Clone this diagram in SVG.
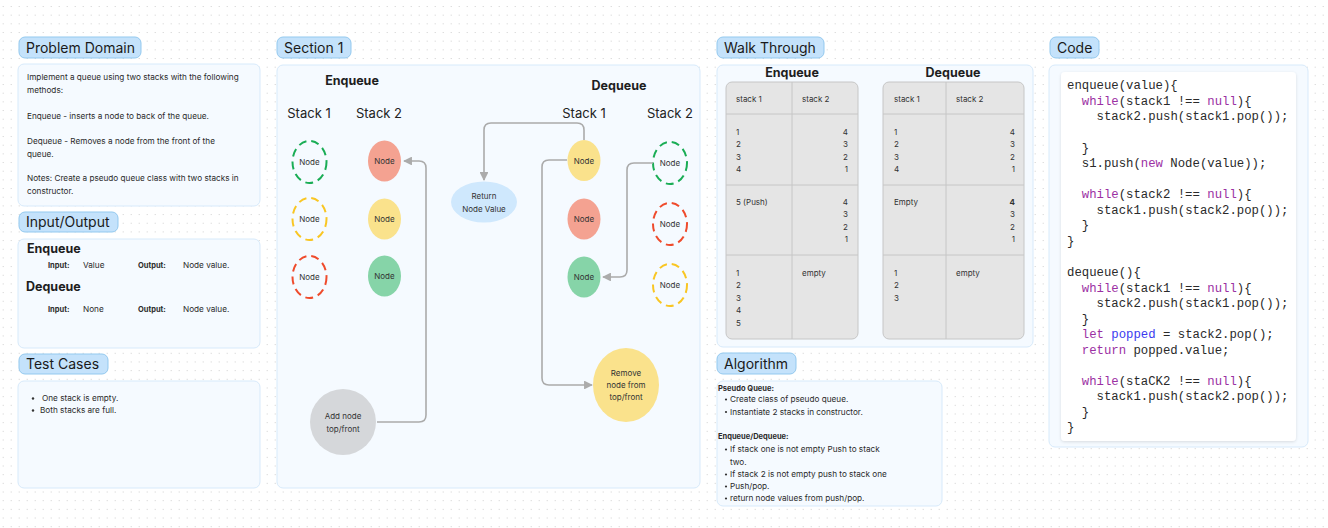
<svg xmlns="http://www.w3.org/2000/svg" width="1328" height="528" viewBox="0 0 1328 528">
<style>
text{font-family:Inter,"Noto Sans","Liberation Sans",sans-serif;fill:#2b2b2b}
.hp{fill:#c4e2fb;stroke:#93c9ef;stroke-width:1}
.ht{font-size:14px;fill:#1a1a1a}
.pn{fill:#f5faff;stroke:#d7eafb;stroke-width:1}
.s8{font-size:8.2px}
.s75b{font-size:7.5px;font-weight:700}
.b12{font-size:12.5px;font-weight:700;fill:#1e1e1e}
.st{font-size:13px;fill:#222}
.nl{font-size:8px;text-anchor:middle;fill:#333}
.dg{fill:none;stroke:#1aad55;stroke-width:2;stroke-dasharray:8 5}
.dy{fill:none;stroke:#f9c623;stroke-width:2;stroke-dasharray:8 5}
.dr{fill:none;stroke:#ef4b2c;stroke-width:2;stroke-dasharray:8 5}
.fr{fill:#f4a291}
.fy{fill:#fae28c}
.fg{fill:#86d4a8}
.conn{fill:none;stroke:#ababab;stroke-width:1.6}
.tb{fill:#e5e5e5;stroke:#c6c6c6;stroke-width:1}
.tl{stroke:#c6c6c6;stroke-width:1}
.wt{font-size:8px;fill:#333}
.wr{font-size:8px;fill:#333;text-anchor:end}
.code{font-family:"Liberation Mono","DejaVu Sans Mono",monospace;font-size:12.3px;fill:#2a2a2a}
.kw{fill:#9b30a3}
.vr{fill:#3b3bef}
</style>
<defs>
<pattern id="dots" x="2.7" y="6" width="8" height="8.67" patternUnits="userSpaceOnUse">
<rect x="0" y="0" width="1" height="1" fill="#cfcfcf"/>
</pattern>
<marker id="ah" viewBox="0 0 10 10" refX="9" refY="5" markerWidth="5.5" markerHeight="5.5" orient="auto" markerUnits="strokeWidth">
<path d="M0,0 L10,5 L0,10 z" fill="#ababab"/>
</marker>
<marker id="ahd" viewBox="0 0 10 10" refX="9" refY="5" markerWidth="6" markerHeight="6" orient="auto" markerUnits="strokeWidth">
<path d="M0,0 L10,5 L0,10 z" fill="#727272"/>
</marker>
<filter id="sh" x="-5%" y="-5%" width="110%" height="110%">
<feDropShadow dx="0" dy="1" stdDeviation="1.5" flood-color="#000" flood-opacity="0.12"/>
</filter>
</defs>
<rect width="1328" height="528" fill="#ffffff"/>
<rect width="1328" height="528" fill="url(#dots)"/>

<g id="problem-domain">
<rect class="hp" x="19" y="37" width="122" height="21" rx="6"/>
<text class="ht" x="26" y="53">Problem Domain</text>
<rect class="pn" x="18" y="64" width="242" height="142" rx="6"/>
<text class="s8" x="27" y="80">Implement a queue using two stacks with the following</text>
<text class="s8" x="27" y="93">methods:</text>
<text class="s8" x="27" y="119">Enqueue - inserts a node to back of the queue.</text>
<text class="s8" x="27" y="144">Dequeue - Removes a node from the front of the</text>
<text class="s8" x="27" y="157">queue.</text>
<text class="s8" x="27" y="181">Notes: Create a pseudo queue class with two stacks in</text>
<text class="s8" x="27" y="194">constructor.</text>
</g>

<g id="input-output">
<rect class="hp" x="19" y="212" width="99" height="20" rx="6"/>
<text class="ht" x="26" y="227">Input/Output</text>
<rect class="pn" x="18" y="239" width="242" height="109" rx="6"/>
<text class="b12" x="27" y="253">Enqueue</text>
<text class="s75b" x="48" y="268">Input:</text>
<text class="s8" x="83" y="268">Value</text>
<text class="s75b" x="138" y="268">Output:</text>
<text class="s8" x="183" y="268">Node value.</text>
<text class="b12" x="26" y="291">Dequeue</text>
<text class="s75b" x="48" y="312">Input:</text>
<text class="s8" x="83" y="312">None</text>
<text class="s75b" x="138" y="312">Output:</text>
<text class="s8" x="183" y="312">Node value.</text>
</g>

<g id="test-cases">
<rect class="hp" x="19" y="354" width="89" height="20" rx="6"/>
<text class="ht" x="26" y="369">Test Cases</text>
<rect class="pn" x="18" y="381" width="242" height="107" rx="6"/>
<circle cx="33" cy="398.5" r="1.2" fill="#333"/>
<text class="s8" x="42" y="401">One stack is empty.</text>
<circle cx="33" cy="410.5" r="1.2" fill="#333"/>
<text class="s8" x="40" y="413">Both stacks are full.</text>
</g>

<g id="section-1">
<rect class="hp" x="277" y="37" width="74" height="21" rx="6"/>
<text class="ht" x="284" y="53">Section 1</text>
<rect class="pn" x="277" y="65" width="423" height="423" rx="6"/>
<text class="b12" x="352" y="85" text-anchor="middle">Enqueue</text>
<text class="st" x="309" y="117.5" text-anchor="middle">Stack 1</text>
<text class="st" x="379" y="117.5" text-anchor="middle">Stack 2</text>
<text class="b12" x="619" y="90" text-anchor="middle">Dequeue</text>
<text class="st" x="584" y="117.5" text-anchor="middle">Stack 1</text>
<text class="st" x="670" y="117.5" text-anchor="middle">Stack 2</text>
</g>

<g id="enq-s1-green"><ellipse class="dg" cx="309.5" cy="162" rx="17" ry="21"/><text class="nl" x="309.5" y="165">Node</text></g>
<g id="enq-s1-yellow"><ellipse class="dy" cx="309.5" cy="219" rx="17" ry="21"/><text class="nl" x="309.5" y="222">Node</text></g>
<g id="enq-s1-red"><ellipse class="dr" cx="309.5" cy="277" rx="17" ry="21"/><text class="nl" x="309.5" y="280">Node</text></g>
<g id="enq-s2-red"><ellipse class="fr" cx="384.5" cy="161" rx="16.5" ry="20.5"/><text class="nl" x="384.5" y="164">Node</text></g>
<g id="enq-s2-yellow"><ellipse class="fy" cx="384.5" cy="219" rx="16.5" ry="20.5"/><text class="nl" x="384.5" y="222">Node</text></g>
<g id="enq-s2-green"><ellipse class="fg" cx="384.5" cy="276" rx="16.5" ry="20.5"/><text class="nl" x="384.5" y="279">Node</text></g>
<g id="add-node"><circle cx="343" cy="422" r="33" fill="#d5d7da"/><text class="nl" x="343" y="419">Add node</text><text class="nl" x="343" y="432">top/front</text></g>

<g id="deq-s1-yellow"><ellipse class="fy" cx="584" cy="160.5" rx="16.5" ry="20.5"/><text class="nl" x="584" y="163.5">Node</text></g>
<g id="deq-s1-red"><ellipse class="fr" cx="584" cy="219" rx="16.5" ry="20.5"/><text class="nl" x="584" y="222">Node</text></g>
<g id="deq-s1-green"><ellipse class="fg" cx="584" cy="277" rx="16.5" ry="20.5"/><text class="nl" x="584" y="280">Node</text></g>
<g id="deq-s2-green"><ellipse class="dg" cx="670" cy="163" rx="17" ry="21"/><text class="nl" x="670" y="166">Node</text></g>
<g id="deq-s2-red"><ellipse class="dr" cx="670" cy="224" rx="17" ry="21"/><text class="nl" x="670" y="227">Node</text></g>
<g id="deq-s2-yellow"><ellipse class="dy" cx="670" cy="285" rx="17" ry="21"/><text class="nl" x="670" y="288">Node</text></g>
<g id="return-node"><ellipse cx="484" cy="202" rx="33" ry="20.5" fill="#cfe8fd"/><text class="nl" x="484" y="199">Return</text><text class="nl" x="484" y="212">Node Value</text></g>
<g id="remove-node"><ellipse cx="626" cy="385" rx="33" ry="37" fill="#fae28c"/><text class="nl" x="626" y="376">Remove</text><text class="nl" x="626" y="388">node from</text><text class="nl" x="626" y="400">top/front</text></g>

<g id="connectors">
<path class="conn" marker-end="url(#ah)" d="M377,422 H419 Q426,422 426,415 V168 Q426,161 419,161 H404"/>
<path class="conn" marker-end="url(#ah)" d="M584,140 V130 Q584,123 577,123 H491 Q484,123 484,130 V180"/>
<path class="conn" marker-end="url(#ah)" d="M567,160 H549 Q542,160 542,167 V378 Q542,385 549,385 H592"/>
<path class="conn" marker-end="url(#ah)" d="M653,163 H634 Q627,163 627,170 V270 Q627,277 620,277 H603"/>
<line x1="780" y1="161" x2="803" y2="161" stroke="#727272" stroke-width="1.5" marker-end="url(#ahd)"/>
<line x1="934" y1="167" x2="957" y2="167" stroke="#727272" stroke-width="1.5" marker-end="url(#ahd)"/>
</g>

<g id="walk-through">
<rect class="hp" x="717" y="37" width="107" height="21" rx="6"/>
<text class="ht" x="724" y="53">Walk Through</text>
<rect class="pn" x="717" y="65" width="316" height="282" rx="6"/>
<text class="b12" x="792" y="77" text-anchor="middle">Enqueue</text>
<text class="b12" x="953" y="77" text-anchor="middle">Dequeue</text>
</g>

<g id="enqueue-table">
<rect class="tb" x="726" y="82" width="132" height="257" rx="6"/>
<line class="tl" x1="792" y1="82" x2="792" y2="339"/>
<line class="tl" x1="726" y1="114" x2="858" y2="114"/>
<line class="tl" x1="726" y1="185" x2="858" y2="185"/>
<line class="tl" x1="726" y1="255" x2="858" y2="255"/>
<text class="wt" x="736" y="102">stack 1</text>
<text class="wt" x="802" y="102">stack 2</text>
<text class="wt" x="736" y="135">1</text><text class="wt" x="736" y="147">2</text><text class="wt" x="736" y="160">3</text><text class="wt" x="736" y="172">4</text>
<text class="wr" x="848" y="135">4</text><text class="wr" x="848" y="147">3</text><text class="wr" x="848" y="160">2</text><text class="wr" x="848" y="172">1</text>
<text class="wt" x="736" y="205">5 (Push)</text>
<text class="wr" x="848" y="205">4</text><text class="wr" x="848" y="217">3</text><text class="wr" x="848" y="230">2</text><text class="wr" x="848" y="242">1</text>
<text class="wt" x="736" y="276">1</text><text class="wt" x="736" y="288">2</text><text class="wt" x="736" y="301">3</text><text class="wt" x="736" y="313">4</text><text class="wt" x="736" y="326">5</text>
<text class="wt" x="802" y="276">empty</text>
</g>

<g id="dequeue-table">
<rect class="tb" x="883" y="82" width="141" height="257" rx="6"/>
<line class="tl" x1="946" y1="82" x2="946" y2="339"/>
<line class="tl" x1="883" y1="114" x2="1024" y2="114"/>
<line class="tl" x1="883" y1="185" x2="1024" y2="185"/>
<line class="tl" x1="883" y1="255" x2="1024" y2="255"/>
<text class="wt" x="894" y="102">stack 1</text>
<text class="wt" x="956" y="102">stack 2</text>
<text class="wt" x="894" y="135">1</text><text class="wt" x="894" y="147">2</text><text class="wt" x="894" y="160">3</text><text class="wt" x="894" y="172">4</text>
<text class="wr" x="1015" y="135">4</text><text class="wr" x="1015" y="147">3</text><text class="wr" x="1015" y="160">2</text><text class="wr" x="1015" y="172">1</text>
<text class="wt" x="894" y="205">Empty</text>
<text class="wr" x="1015" y="205" font-weight="700">4</text><text class="wr" x="1015" y="217">3</text><text class="wr" x="1015" y="230">2</text><text class="wr" x="1015" y="242">1</text>
<text class="wt" x="894" y="276">1</text><text class="wt" x="894" y="288">2</text><text class="wt" x="894" y="301">3</text>
<text class="wt" x="956" y="276">empty</text>
</g>

<g id="algorithm">
<rect class="hp" x="717" y="353" width="79" height="21" rx="6"/>
<text class="ht" x="724" y="369">Algorithm</text>
<rect class="pn" x="717" y="381" width="225" height="125" rx="6"/>
<text class="s75b" x="718" y="391">Pseudo Queue:</text>
<circle cx="726" cy="399.5" r="1.1" fill="#333"/><text class="s8" x="730" y="402">Create class of pseudo queue.</text>
<circle cx="726" cy="412" r="1.1" fill="#333"/><text class="s8" x="730" y="414.5">Instantiate 2 stacks in constructor.</text>
<text class="s75b" x="718" y="439">Enqueue/Dequeue:</text>
<circle cx="726" cy="449.5" r="1.1" fill="#333"/><text class="s8" x="730" y="452">If stack one is not empty Push to stack</text>
<text class="s8" x="730" y="464.5">two.</text>
<circle cx="726" cy="474.5" r="1.1" fill="#333"/><text class="s8" x="730" y="477">If stack 2 is not empty push to stack one</text>
<circle cx="726" cy="486.5" r="1.1" fill="#333"/><text class="s8" x="730" y="489">Push/pop.</text>
<circle cx="726" cy="498.5" r="1.1" fill="#333"/><text class="s8" x="730" y="501">return node values from push/pop.</text>
</g>

<g id="code">
<rect class="hp" x="1050" y="37" width="49" height="21" rx="6"/>
<text class="ht" x="1057" y="53">Code</text>
<rect class="pn" x="1049" y="65" width="259" height="382" rx="6"/>
<rect x="1061" y="72" width="235" height="369" rx="4" fill="#ffffff" filter="url(#sh)"/>
<text class="code" x="1067" y="89.3">enqueue(value){</text>
<text class="code" x="1081.8" y="104.9"><tspan class="kw">while</tspan>(stack1 !== <tspan class="kw">null</tspan>){</text>
<text class="code" x="1096.6" y="120.4">stack2.push(stack1.pop());</text>
<text class="code" x="1081.8" y="151.5">}</text>
<text class="code" x="1081.8" y="167.1">s1.push(<tspan class="kw">new</tspan> Node(value));</text>
<text class="code" x="1081.8" y="198.2"><tspan class="kw">while</tspan>(stack2 !== <tspan class="kw">null</tspan>){</text>
<text class="code" x="1096.6" y="213.7">stack1.push(stack2.pop());</text>
<text class="code" x="1081.8" y="229.3">}</text>
<text class="code" x="1067" y="244.8">}</text>
<text class="code" x="1067" y="275.9">dequeue(){</text>
<text class="code" x="1081.8" y="291.5"><tspan class="kw">while</tspan>(stack1 !== <tspan class="kw">null</tspan>){</text>
<text class="code" x="1096.6" y="307">stack2.push(stack1.pop());</text>
<text class="code" x="1081.8" y="322.6">}</text>
<text class="code" x="1081.8" y="338.1"><tspan class="kw">let</tspan> <tspan class="vr">popped</tspan> = stack2.pop();</text>
<text class="code" x="1081.8" y="353.7"><tspan class="kw">return</tspan> popped.value;</text>
<text class="code" x="1081.8" y="384.8"><tspan class="kw">while</tspan>(staCK2 !== <tspan class="kw">null</tspan>){</text>
<text class="code" x="1096.6" y="400.3">stack1.push(stack2.pop());</text>
<text class="code" x="1081.8" y="415.9">}</text>
<text class="code" x="1067" y="431.4">}</text>
</g>
</svg>
